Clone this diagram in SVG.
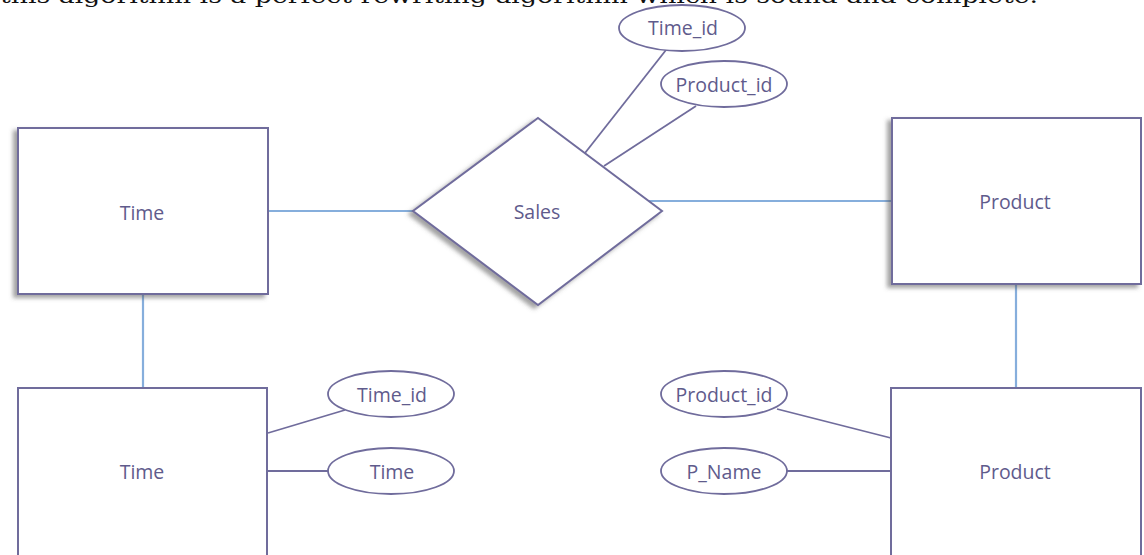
<svg xmlns="http://www.w3.org/2000/svg" width="1144" height="555" viewBox="0 0 1144 555">
  <defs>
    <filter id="shadow" x="-10%" y="-10%" width="120%" height="120%">
      <feDropShadow dx="-4" dy="3" stdDeviation="2" flood-color="#555" flood-opacity="0.55"/>
    </filter>
    <style>
      .entity { fill: #fff; stroke: #706c9c; stroke-width: 2; }
      .attr { fill: #fff; stroke: #706c9c; stroke-width: 1.8; }
      .link { stroke: #706c9c; stroke-width: 1.8; fill: none; }
      .rel { stroke: #86aedc; stroke-width: 2.2; fill: none; }
      .label { font-family: "Open Sans", "Liberation Sans", sans-serif; font-size: 19.5px; fill: #5f5b8c; text-anchor: middle; dominant-baseline: central; }
      .caption { font-family: "DejaVu Serif", "Liberation Serif", serif; font-size: 20px; fill: #111; }
    </style>
  </defs>
  <rect width="1144" height="555" fill="#fff"/>

  <!-- running text line above the figure -->
  <text class="caption" x="0" y="3" textLength="1038" lengthAdjust="spacingAndGlyphs">this algorithm is a perfect rewriting algorithm which is sound and complete.</text>

  <!-- connectors -->
  <g id="connectors">
    <line class="rel" x1="268" y1="211" x2="414" y2="211"/>
    <line class="rel" x1="648" y1="201" x2="892" y2="201"/>
    <line class="rel" x1="143" y1="294" x2="143" y2="388"/>
    <line class="rel" x1="1016" y1="284" x2="1016" y2="388"/>
    <line class="link" x1="666" y1="50" x2="585" y2="153"/>
    <line class="link" x1="696" y1="106" x2="604" y2="166"/>
    <line class="link" x1="268" y1="433" x2="345" y2="410"/>
    <line class="link" x1="268" y1="471" x2="329" y2="471"/>
    <line class="link" x1="777" y1="409" x2="891" y2="438"/>
    <line class="link" x1="787" y1="471" x2="891" y2="471"/>
  </g>

  <g id="time-entity">
    <rect class="entity" x="18" y="128" width="250" height="166" filter="url(#shadow)"/>
    <text class="label" x="142" y="212">Time</text>
  </g>

  <g id="sales-relationship">
    <polygon class="entity" points="538,118 662,211 538,305 413,211" filter="url(#shadow)"/>
    <text class="label" x="537" y="211">Sales</text>
  </g>

  <g id="product-entity">
    <rect class="entity" x="892" y="118" width="249" height="166" filter="url(#shadow)"/>
    <text class="label" x="1015" y="201">Product</text>
  </g>

  <g id="sales-time-id">
    <ellipse class="attr" cx="682" cy="28" rx="63" ry="23"/>
    <text class="label" x="683" y="27">Time_id</text>
  </g>

  <g id="sales-product-id">
    <ellipse class="attr" cx="724" cy="84" rx="63" ry="23"/>
    <text class="label" x="724" y="84">Product_id</text>
  </g>

  <g id="time-table">
    <rect class="entity" x="18" y="388" width="249" height="180"/>
    <text class="label" x="142" y="471">Time</text>
  </g>

  <g id="time-table-id">
    <ellipse class="attr" cx="391" cy="394" rx="63" ry="23"/>
    <text class="label" x="392" y="394">Time_id</text>
  </g>

  <g id="time-table-time">
    <ellipse class="attr" cx="391" cy="471" rx="63" ry="23"/>
    <text class="label" x="392" y="471">Time</text>
  </g>

  <g id="product-table">
    <rect class="entity" x="891" y="388" width="250" height="180"/>
    <text class="label" x="1015" y="471">Product</text>
  </g>

  <g id="product-table-id">
    <ellipse class="attr" cx="724" cy="394" rx="63" ry="23"/>
    <text class="label" x="724" y="394">Product_id</text>
  </g>

  <g id="product-table-name">
    <ellipse class="attr" cx="724" cy="471" rx="63" ry="23"/>
    <text class="label" x="724" y="471">P_Name</text>
  </g>
</svg>
